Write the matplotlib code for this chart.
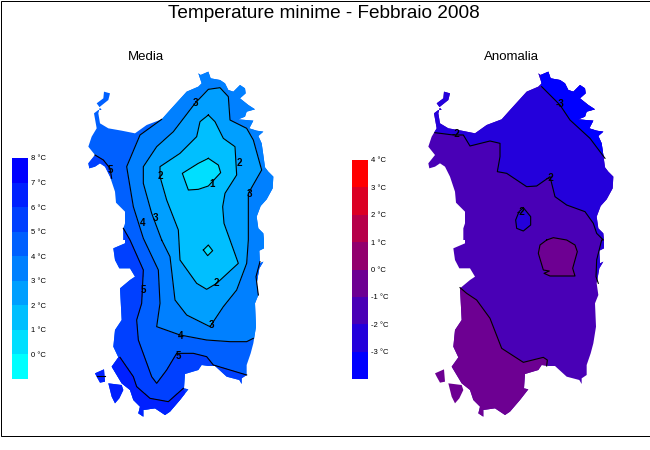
import matplotlib
matplotlib.use("Agg")
import matplotlib.pyplot as plt
from matplotlib.patches import Polygon, Rectangle

plt.rcParams['font.family'] = ['Liberation Sans', 'DejaVu Sans']

TITLE = "Temperature minime - Febbraio 2008"

# Map grid units: 600 x 1080 over the map frame, y downwards.
island = [(355,40),(362,45),(385,35),(392,55),(420,60),(435,70),(445,90),(460,95),(480,75),(495,85),(497,100),(480,115),(505,135),(525,148),(500,155),(495,170),(475,178),(520,182),(508,205),(530,212),(550,215),(535,228),(545,250),(550,285),(555,322),(565,335),(580,350),(578,385),(560,418),(542,438),(530,470),(535,505),(550,520),(552,540),
          (552,565),(538,572),(540,610),(550,605),(538,625),(530,670),(535,705),(525,730),(528,800),(520,850),(512,880),(500,915),(500,945),(485,955),(485,972),(478,960),(440,950),(405,918),(385,918),(365,915),(355,930),(315,942),(312,985),(325,988),(300,1020),(270,1055),(255,1065),(225,1045),(190,1050),(190,1070),(175,1060),(180,1040),(160,1020),(150,990),(125,970),(95,920),(115,892),(100,860),(105,810),(125,780),(120,685),(150,660),(165,650),(150,625),(118,625),(105,600),(100,565),(135,550),(135,540),
          (130,540),(130,505),(135,490),(135,455),(108,428),(105,395),(90,350),(75,320),(60,310),(45,320),(28,325),(25,310),(45,285),(25,260),(35,230),(50,205),(42,160),(55,150),(65,150),(50,130),(70,115),(72,95),(90,100),(85,120),(60,140),(55,160),(60,190),(85,205),(125,212),(165,220),(200,195),(245,178),(270,150),(320,95),(355,80),(365,70)]
isle_pietro = [(45,940),(72,928),(75,965),(60,968),(50,950)]
isle_antioco = [(85,970),(125,975),(130,990),(118,1015),(105,1030),(95,1010)]

# Media: contour lines
m_line5 = [(130,505),(150,540),(190,630),(185,730),(170,780),(175,840),(215,950),(230,970),(260,930),(290,880),(340,880),(380,890),(400,915),(500,945)]
m_line5_nw = [(45,285),(70,300),(90,325),(95,355)]
m_line6 = [(120,892),(160,950),(170,980),(210,1015),(265,1025),(310,985)]
m_line6_isle = [(50,948),(75,948)]
m_line4 = [(245,178),(180,225),(140,320),(160,440),(190,535),(235,630),(240,730),(230,800),(300,825),(380,840),(450,845),(500,845),(520,835)]
m_line3 = [(245,540),(215,460),(190,370),(190,320),(230,260),(280,215),(345,130),(385,88),(420,83),(445,110),(450,180),(500,205),(520,240),(545,330),(505,400),(505,540),(500,610),(470,690),(430,740),(390,800),(320,765),(285,720),(270,590)]
m_line2 = [(385,165),(405,185),(430,235),(465,260),(470,345),(435,400),(428,440),(432,490),(450,540),(475,610),(410,670),(380,688),(350,670),(300,600),(295,510),(260,420),(240,350),(240,320),(300,280),(350,230),(360,185)]
m_line1 = [(385,295),(415,315),(422,338),(385,378),(355,388),(325,390),(307,340),(355,310)]
m_diamond = [(370,570),(385,555),(398,572),(383,587)]
m_east = [(540,605),(528,650),(535,705)]

m_labels = [("3",345,128),("2",478,308),("2",240,348),("3",508,402),("3",225,473),("4",187,490),("5",92,330),("1",395,372),("5",190,690),("2",408,668),("3",395,795),("4",303,828),("5",295,888)]

# Anomalia: contour lines
a_line3 = [(365,80),(420,135),(450,180),(510,235),(555,295)]
a_line2 = [(45,218),(100,225),(130,225),(150,258),(210,243),(240,250),(240,290),(232,335),(260,340),(320,380),(350,378),(390,350),(405,410),(440,435),(495,455),(520,490),(530,520),(550,540),(545,540),(530,600),(528,650),(535,670)]
a_oval = [(310,443),(332,470),(332,495),(310,513),(290,505),(287,480),(297,455)]
a_core = [(380,540),(400,533),(440,540),(465,555),(472,575),(458,625),(465,648),(390,648),(372,640),(388,633),(370,630),(355,580),(360,555)]
a_line1 = [(120,683),(140,700),(170,720),(210,775),(245,865),(310,907),(370,892),(382,900),(380,918)]

a_labels = [("-3",420,132),("-2",108,222),("-2",390,355),("-2",302,455)]

# Colour bars
media_ticks = [8,7,6,5,4,3,2,1,0]
media_edges = [8,7,6,5,4,3,2,1,0,-1]
media_colors = ['#0000ff','#0020ff','#0040ff','#0060ff','#0080ff','#009fff','#00bfff','#00dfff','#00ffff']
anom_ticks = [4,3,2,1,0,-1,-2,-3]
anom_edges = [4,3,2,1,0,-1,-2,-3,-4]
anom_colors = ['#ff0000','#db0024','#b60049','#92006d','#6d0092','#4900b6','#2400db','#0000ff']

W, H = 650, 450
fig = plt.figure(figsize=(6.5, 4.5), dpi=100, facecolor='white')

def px_axes(x0, y0, x1, y1):
    return fig.add_axes([x0/W, 1-y1/H, (x1-x0)/W, (y1-y0)/H])

# Frame
bg = fig.add_axes([0, 0, 1, 1]); bg.set_xlim(0, W); bg.set_ylim(H, 0); bg.axis('off')
bg.add_patch(Rectangle((0.5, 0.5), 649, 435, fill=False, ec='black', lw=0.72))
bg.text(324, 13.5, TITLE, ha='center', va='center', fontsize=13.7)
bg.text(146, 56.5, "Media", ha='center', va='center', fontsize=9.5)
bg.text(511, 56.5, "Anomalia", ha='center', va='center', fontsize=9.5)

def make_map(x0):
    ax = px_axes(x0, 60, x0+200, 420)
    ax.set_xlim(0, 600); ax.set_ylim(1080, 0); ax.axis('off')
    ax.patch.set_alpha(0)
    return ax

def fill(ax, pts, color, clips):
    for clip in clips:
        p = Polygon(pts, closed=True, fc=color, ec='none', antialiased=False)
        ax.add_patch(p)
        p.set_clip_path(Polygon(clip, closed=True, transform=ax.transData))

def draw_line(ax, pts, closed=False):
    pts = list(pts) + (pts[:1] if closed else [])
    ax.plot([p[0] for p in pts], [p[1] for p in pts], color='black', lw=0.8, solid_joinstyle='round')

def labels(ax, items):
    for s, x, y in items:
        ax.text(x, y, s, ha='center', va='center', fontsize=7, fontweight='bold', color='black')

lands = [island, isle_pietro, isle_antioco]

# Media
ax = make_map(80)
fill(ax, island, media_colors[3], [island])
fill(ax, m_line5 + [(600,1080),(0,1080),(0,505)], media_colors[2], lands)
fill(ax, m_line5_nw + [(0,355),(0,285)], media_colors[2], [island])
fill(ax, m_line6 + [(330,1080),(0,1080),(0,892)], media_colors[1], lands)
fill(ax, m_line4 + [(600,835),(600,0),(245,0)], media_colors[4], [island])
fill(ax, m_line3, media_colors[5], [island])
fill(ax, m_east + [(600,705),(600,605)], media_colors[3], [island])
fill(ax, m_line2, media_colors[6], [island])
fill(ax, m_line1, media_colors[7], [island])
fill(ax, m_diamond, media_colors[7], [island])
for l in (m_line5, m_line5_nw, m_line6, m_line6_isle, m_line4, m_east):
    draw_line(ax, l)
for l in (m_line3, m_line2, m_line1, m_diamond):
    draw_line(ax, l, closed=True)
labels(ax, m_labels)

# Anomalia
ax = make_map(420)
fill(ax, island, anom_colors[5], lands)
fill(ax, a_line2 + [(600,670),(600,0),(0,0),(0,218)], anom_colors[6], [island])
fill(ax, a_line3 + [(600,295),(600,0),(365,0)], anom_colors[7], [island])
fill(ax, a_oval, anom_colors[6], [island])
fill(ax, a_core, anom_colors[4], [island])
fill(ax, a_line1 + [(380,1080),(0,1080),(0,683)], anom_colors[4], lands)
for l in (a_line3, a_line2, a_line1):
    draw_line(ax, l)
for l in (a_oval, a_core):
    draw_line(ax, l, closed=True)
labels(ax, a_labels)

def colorbar(box, edges, colors, ticks):
    ax = px_axes(*box)
    for i, c in enumerate(colors):
        ax.bar(0, edges[i]-edges[i+1], bottom=edges[i+1], width=1, color=c, lw=0, antialiased=False)
    ax.set_xlim(-0.5, 0.5); ax.set_ylim(edges[-1], edges[0])
    for s in ax.spines.values():
        s.set_visible(False)
    ax.set_xticks([])
    ax.yaxis.tick_right()
    ax.set_yticks(ticks)
    ax.set_yticklabels([f"{t} °C" for t in ticks], fontsize=5.5)
    ax.tick_params(axis='y', length=0, pad=2)

colorbar((12, 158, 28, 379), media_edges, media_colors, media_ticks)
colorbar((352, 160, 368, 379), anom_edges, anom_colors, anom_ticks)

fig.savefig("out.png", dpi=100, facecolor='white')
